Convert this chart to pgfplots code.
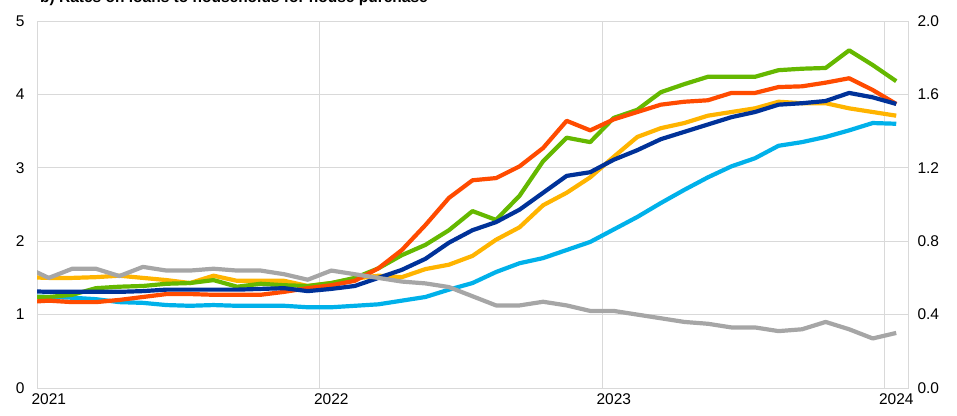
\documentclass[border=0pt]{standalone}
\usepackage{pgfplots}
\pgfplotsset{compat=1.18}
\usepackage{pgfplotstable}
\usepackage{fontspec}
\setmainfont{Liberation Sans}
\definecolor{cdblue}{HTML}{003299}
\definecolor{cred}{HTML}{FF4B00}
\definecolor{cyellow}{HTML}{FFB400}
\definecolor{cgreen}{HTML}{65B800}
\definecolor{clblue}{HTML}{00B1EA}
\definecolor{cgray}{HTML}{A6A6A6}
\definecolor{cgrid}{HTML}{D9D9D9}
\pgfplotstableread{
x dblue red yellow green lblue gray
-0.5 1.32 1.17 1.51 1.24 1.25 0.66
0.5 1.31 1.19 1.50 1.24 1.24 0.60
1.5 1.31 1.17 1.50 1.27 1.23 0.65
2.5 1.31 1.17 1.51 1.36 1.21 0.65
3.5 1.31 1.20 1.53 1.38 1.17 0.61
4.5 1.32 1.24 1.50 1.39 1.16 0.66
5.5 1.34 1.28 1.47 1.42 1.13 0.64
6.5 1.34 1.28 1.43 1.43 1.12 0.64
7.5 1.34 1.27 1.53 1.47 1.13 0.65
8.5 1.34 1.27 1.46 1.38 1.12 0.64
9.5 1.35 1.27 1.46 1.42 1.12 0.64
10.5 1.36 1.31 1.46 1.40 1.12 0.62
11.5 1.32 1.36 1.39 1.39 1.10 0.59
12.5 1.35 1.40 1.43 1.43 1.10 0.64
13.5 1.39 1.46 1.49 1.50 1.12 0.62
14.5 1.50 1.63 1.53 1.63 1.14 0.60
15.5 1.61 1.88 1.51 1.81 1.19 0.58
16.5 1.76 2.22 1.62 1.95 1.24 0.57
17.5 1.98 2.59 1.68 2.15 1.34 0.55
18.5 2.15 2.83 1.80 2.41 1.43 0.50
19.5 2.26 2.86 2.02 2.29 1.58 0.45
20.5 2.43 3.02 2.19 2.62 1.70 0.45
21.5 2.66 3.27 2.49 3.09 1.77 0.47
22.5 2.89 3.64 2.66 3.41 1.88 0.45
23.5 2.94 3.51 2.87 3.35 1.99 0.42
24.5 3.11 3.66 3.15 3.68 2.16 0.42
25.5 3.24 3.76 3.42 3.79 2.33 0.40
26.5 3.39 3.86 3.54 4.03 2.52 0.38
27.5 3.49 3.90 3.61 4.14 2.70 0.36
28.5 3.59 3.92 3.71 4.24 2.87 0.35
29.5 3.69 4.02 3.76 4.24 3.02 0.33
30.5 3.76 4.02 3.81 4.24 3.13 0.33
31.5 3.86 4.10 3.90 4.33 3.30 0.31
32.5 3.88 4.11 3.88 4.35 3.35 0.32
33.5 3.91 4.16 3.88 4.36 3.42 0.36
34.5 4.02 4.22 3.81 4.60 3.51 0.32
35.5 3.96 4.06 3.76 4.40 3.61 0.27
36.5 3.87 3.87 3.71 4.18 3.60 0.30
}\data
\begin{document}
\begin{tikzpicture}[x=1pt,y=1pt,font=\fontsize{15.5}{18}\selectfont]
\begin{axis}[
  at={(37pt,27pt)}, anchor=origin,
  scale only axis, width=871pt, height=367pt,
  xmin=0, xmax=37, ymin=0, ymax=5,
  axis line style={cgrid, line width=0.9pt},
  xtick={0,12,24,36}, xticklabels={2021,2022,2023,2024},
  ytick={0,1,2,3,4,5},
  major tick length=0pt,
  grid=major, major grid style={cgrid, line width=0.9pt},
  /pgf/number format/assume math mode=true,
  yticklabel style={xshift=-9pt},
  xticklabel style={xshift=11.8pt, yshift=-2pt},
  every axis plot/.append style={line width=4.2pt, line join=round, no markers},
]
\addplot[clblue] table[x=x,y=lblue]{\data};
\addplot[cyellow] table[x=x,y=yellow]{\data};
\addplot[cgreen] table[x=x,y=green]{\data};
\addplot[cred] table[x=x,y=red]{\data};
\addplot[cdblue] table[x=x,y=dblue]{\data};
\end{axis}
\begin{axis}[
  at={(37pt,27pt)}, anchor=origin,
  scale only axis, width=871pt, height=367pt,
  xmin=0, xmax=37, ymin=0, ymax=2,
  hide x axis,
  axis y line*=right,
  axis line style={cgrid, line width=0.9pt},
  ytick={0,0.4,0.8,1.2,1.6,2.0},
  major tick length=0pt,
  /pgf/number format/fixed,
  /pgf/number format/fixed zerofill,
  /pgf/number format/precision=1,
  /pgf/number format/assume math mode=true,
  yticklabel style={xshift=6pt},
  every axis plot/.append style={line width=4.2pt, line join=round, no markers},
]
\addplot[cgray] table[x=x,y=gray]{\data};
\end{axis}
\node[anchor=base west, font=\fontsize{15.5}{18}\selectfont\bfseries, inner sep=0pt] at (40,412) {b) Rates on loans to households for house purchase};
\pgfresetboundingbox
\useasboundingbox (0,0) rectangle (957,415);
\end{tikzpicture}
\end{document}
